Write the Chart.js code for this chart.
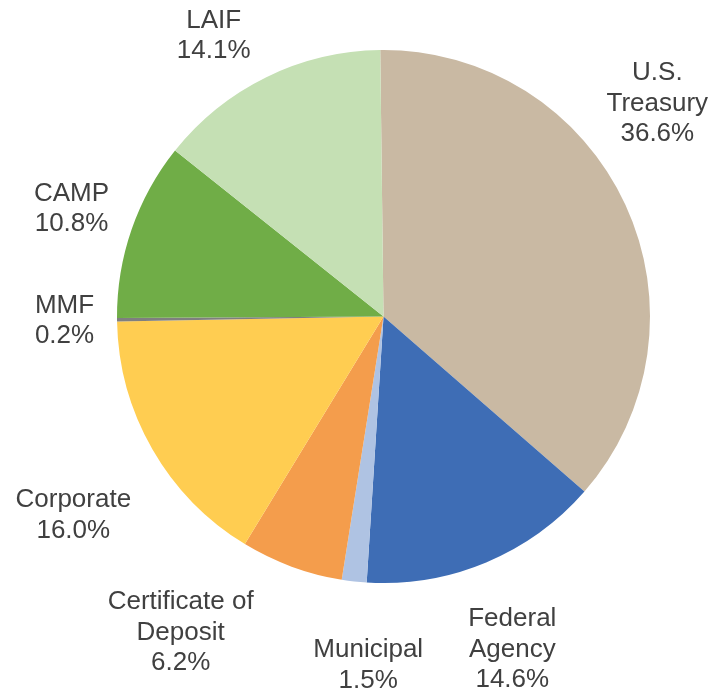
<!DOCTYPE html>
<html>
<head>
<meta charset="utf-8">
<script src="https://cdn.jsdelivr.net/npm/chart.js@4"></script>
<style>
  html, body { margin: 0; padding: 0; background: #ffffff; }
  #wrap { width: 709px; height: 693px; }
</style>
</head>
<body>
<div id="wrap"><canvas id="c" width="709" height="693"></canvas></div>
<script>
// ---- data ----
const categories = [
  ['U.S.', 'Treasury'],
  ['Federal', 'Agency'],
  ['Municipal'],
  ['Certificate of', 'Deposit'],
  ['Corporate'],
  ['MMF'],
  ['CAMP'],
  ['LAIF']
];
const shares = [36.6, 14.6, 1.5, 6.2, 16.0, 0.2, 10.8, 14.1];
const sliceColors = ['#C9B9A3', '#3E6DB5', '#AFC3E3', '#F49D4C', '#FFCD51', '#7F7F7F', '#70AD47', '#C5E0B4'];

// label placement relative to each slice: angular nudge (deg) from the slice's mid-angle
// and distance as a multiple of the pie radius
const labelNudgeDeg = [-13.3, 1.4, -3.8, 12.7, -2.5, 0.3, 0.3, -4.9];
const labelDistFactor = [1.306, 1.333, 1.303, 1.402, 1.378, 1.197, 1.241, 1.238];

const FONT_SIZE = 26;
const LINE_H = 30.5;

const outsideLabels = {
  id: 'outsideLabels',
  afterDatasetsDraw(chart) {
    const meta = chart.getDatasetMeta(0);
    const ctx = chart.ctx;
    ctx.save();
    ctx.font = FONT_SIZE + 'px "Liberation Sans", Arial, sans-serif';
    ctx.fillStyle = '#404040';
    ctx.textAlign = 'center';
    ctx.textBaseline = 'alphabetic';
    const capH = 0.716 * FONT_SIZE;
    meta.data.forEach((arc, i) => {
      const mid = (arc.startAngle + arc.endAngle) / 2; // radians, 0 = 3 o'clock
      const theta = mid + Math.PI / 2 + labelNudgeDeg[i] * Math.PI / 180; // from top, clockwise
      const d = arc.outerRadius * labelDistFactor[i];
      const lx = arc.x + d * Math.sin(theta);
      const ly = arc.y - d * Math.cos(theta);
      const lines = categories[i].concat([shares[i].toFixed(1) + '%']);
      const n = lines.length;
      lines.forEach((t, k) => {
        const yb = ly - (n - 1) / 2 * LINE_H + k * LINE_H + capH / 2;
        ctx.fillText(t, lx, yb);
      });
    });
    ctx.restore();
  }
};

new Chart(document.getElementById('c'), {
  type: 'pie',
  data: {
    labels: categories.map(c => c.join(' ')),
    datasets: [{
      data: shares,
      backgroundColor: sliceColors,
      borderWidth: 0
    }]
  },
  options: {
    responsive: false,
    animation: false,
    rotation: -0.7,
    layout: { padding: { left: 117, right: 59, top: 50, bottom: 110 } },
    plugins: {
      legend: { display: false },
      tooltip: { enabled: false }
    }
  },
  plugins: [outsideLabels]
});
</script>
</body>
</html>
